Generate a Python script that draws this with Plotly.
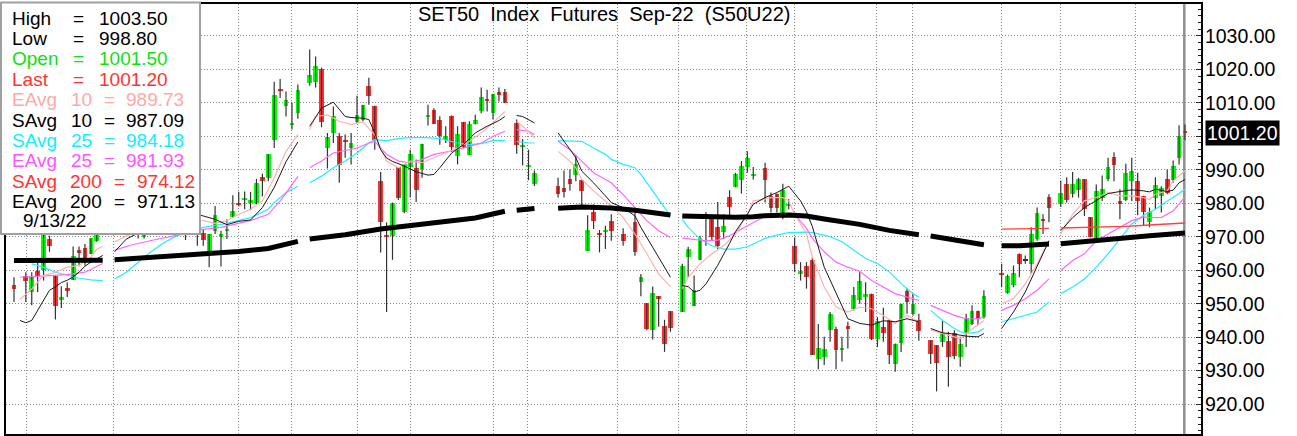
import plotly.graph_objects as go

# ---------------- data (bar slot index = trading-day position) ----------------
slot = [0, 2, 3, 4, 5, 6, 7, 8, 9, 10, 11, 12, 13, 14, 15, 17, 18, 19, 20, 21, 22, 23, 24, 25, 26, 27, 28, 29, 30, 31,
        32, 33, 34, 35, 36, 37, 38, 39, 40, 41, 42, 43, 44, 45, 46, 47, 48, 50, 51, 52, 53, 54, 55, 56, 57, 58, 59, 60,
        61, 62, 63, 64, 65, 66, 67, 68, 69, 70, 71, 72, 73, 74, 75, 76, 77, 78, 79, 80, 81, 82, 83, 85, 86, 87, 88,
        92, 93, 94, 95, 96, 97, 98, 99, 100, 101, 103, 105, 106, 107, 108, 109, 110, 111, 113, 114, 115, 116, 117,
        118, 119, 120, 121, 122, 123, 124, 125, 127, 128, 129, 130, 131, 132, 133, 134, 135, 136, 137, 138, 139, 140,
        141, 142, 143, 144, 145, 146, 147, 148, 149, 150, 151, 152, 153, 155, 156, 157, 158, 159, 160, 161, 162, 163,
        164, 167, 168, 169, 170, 171, 172, 173, 174, 175, 177, 178, 179, 180, 181, 182, 183, 184, 185, 186, 187, 188,
        189, 190, 191, 192, 193, 194, 195, 196, 197, 198]
open_ = [955.6, 958.2, 953.6, 959.9, 960.2, 969.3, 958.4, 951.0, 954.6, 957.1, 966.0, 966.5, 964.8, 968.8, 972.0, 974.0,
         976.0, 978.0, 974.0, 975.0, 970.0, 976.0, 980.0, 982.0, 978.0, 981.0, 984.0, 979.0, 975.0, 978.0,
         971.1, 965.5, 971.8, 970.0, 972.0, 975.9, 980.2, 981.1, 980.0, 980.2, 987.9, 987.4, 999.0, 1014.2, 1009.1,
         1003.5, 1007.1, 1016.0, 1016.3, 1020.0, 996.5, 1001.0, 1000.0, 998.7, 996.5, 1004.3, 1005.0, 1015.1,
         1009.1, 986.6, 970.2, 970.3, 990.8, 977.5, 990.9, 990.6, 990.1, 1005.9, 1007.9, 1004.8, 999.0, 1006.2,
         994.1, 1004.2, 994.4, 1003.7, 1007.7, 1011.1, 1007.1, 1013.1, 1013.1, 1004.0, 997.0, 991.1, 985.8,
         985.1, 984.5, 987.3, 988.5, 986.9, 965.8, 977.5, 971.0, 971.6, 974.8, 970.8, 974.5, 956.4, 950.2, 942.1,
         952.3, 943.3, 947.7, 947.5, 963.9, 949.2, 963.1, 975.5, 975.2, 972.8, 971.3, 982.0, 985.0, 986.9, 990.9,
         988.3, 990.6, 982.2, 982.9, 975.7, 979.4, 967.3, 959.0, 961.2, 963.1, 933.4, 934.0, 942.1, 942.3, 936.1,
         943.3, 948.5, 951.2, 952.0, 953.0, 939.6, 943.1, 945.2, 932.0, 938.3, 953.7, 947.0, 945.2, 939.1, 937.6,
         938.6, 938.9, 941.3, 934.0, 941.1, 943.8, 947.7, 946.0, 958.9, 953.2, 955.7, 964.7, 963.1, 961.9, 969.3,
         975.0, 982.0, 979.9, 985.8, 982.9, 983.9, 987.1, 975.9, 969.0, 981.7, 987.1, 993.8, 980.8, 981.0, 986.6,
         986.6, 982.2, 974.3, 981.7, 982.2, 987.3, 986.9, 993.6, 1001.5]
high = [957.9, 959.4, 959.4, 963.4, 974.0, 970.3, 958.4, 955.2, 956.4, 967.1, 967.1, 967.8, 969.5, 972.5, 976.0, 978.0,
        980.0, 981.0, 977.0, 976.0, 977.0, 981.0, 984.0, 985.0, 983.0, 986.0, 986.0, 982.0, 980.0, 980.0,
        972.0, 970.8, 979.2, 971.8, 975.2, 982.4, 983.4, 983.5, 983.4, 987.3, 988.9, 994.6, 1016.3, 1017.1, 1013.4,
        1010.1, 1015.5, 1025.9, 1023.8, 1020.5, 1001.0, 1008.9, 1001.0, 1000.5, 1001.0, 1012.1, 1009.4, 1017.5,
        1009.1, 989.3, 974.3, 980.2, 990.8, 991.6, 996.0, 993.1, 997.8, 1009.4, 1008.4, 1006.0, 1003.0, 1006.2,
        1003.0, 1004.2, 1004.5, 1006.4, 1014.6, 1013.9, 1012.6, 1014.6, 1014.1, 1005.0, 999.2, 996.0, 989.8,
        987.6, 989.8, 990.1, 994.3, 986.9, 976.4, 979.7, 972.0, 973.3, 976.7, 972.5, 977.5, 958.9, 950.2, 955.1,
        952.3, 945.2, 947.7, 961.9, 967.0, 958.4, 970.3, 977.4, 975.2, 980.4, 976.7, 983.9, 989.1, 992.6, 995.5,
        990.8, 992.1, 983.2, 982.9, 985.8, 981.2, 969.8, 962.4, 962.4, 963.9, 943.9, 940.1, 947.5, 943.1, 940.1,
        944.6, 955.0, 959.4, 956.4, 953.0, 946.0, 948.8, 945.2, 938.1, 950.0, 954.5, 953.2, 947.0, 939.1, 937.6,
        944.9, 941.6, 942.1, 940.1, 947.0, 949.5, 948.0, 954.0, 961.9, 958.7, 961.4, 965.0, 964.4, 972.8, 978.7,
        976.7, 982.7, 986.8, 987.8, 989.3, 987.6, 987.1, 975.9, 985.6, 988.3, 993.6, 995.2, 984.2, 991.8, 993.6,
        989.1, 982.2, 978.7, 987.8, 985.1, 990.1, 992.8, 1003.3, 1003.5]
low = [950.5, 950.5, 949.5, 953.4, 956.9, 965.5, 945.3, 948.7, 952.0, 957.1, 961.2, 961.4, 964.8, 968.5, 970.5, 972.0,
       974.0, 973.0, 971.5, 969.5, 969.5, 975.0, 978.0, 977.0, 976.0, 979.0, 978.0, 969.0, 972.0, 967.3,
       967.3, 960.9, 970.8, 961.1, 969.3, 975.7, 979.0, 978.2, 977.9, 979.7, 982.0, 986.6, 996.5, 1011.4, 1005.9,
       1002.0, 1005.2, 1015.1, 1014.6, 1002.7, 990.4, 998.0, 986.1, 993.6, 991.6, 1004.0, 1004.5, 1009.4,
       996.0, 965.3, 947.5, 963.1, 981.0, 977.0, 981.7, 980.4, 987.6, 1003.2, 1003.7, 997.5, 998.0, 995.3,
       991.6, 996.5, 994.4, 1003.5, 1006.9, 1007.4, 1005.0, 1010.4, 1009.9, 994.8, 991.3, 986.9, 985.1,
       981.7, 981.7, 983.7, 986.6, 979.2, 965.8, 972.3, 965.3, 966.3, 968.8, 967.3, 964.3, 952.2, 942.1, 939.3,
       943.1, 935.6, 941.6, 947.5, 957.9, 949.2, 963.1, 967.3, 969.0, 966.3, 969.3, 976.2, 984.8, 982.9, 989.1,
       987.1, 980.2, 977.2, 977.2, 975.2, 978.2, 959.4, 956.9, 954.5, 934.7, 930.4, 931.7, 938.6, 930.4, 932.7,
       936.6, 948.0, 950.0, 947.5, 939.1, 937.1, 938.6, 932.0, 929.7, 935.6, 947.0, 946.5, 938.9, 932.0, 923.8,
       937.1, 925.2, 933.4, 931.2, 937.1, 943.6, 943.6, 945.5, 954.9, 953.0, 954.9, 957.9, 961.9, 958.9, 968.8,
       970.8, 974.3, 978.9, 980.2, 981.7, 981.7, 976.2, 969.8, 969.0, 980.7, 986.6, 986.6, 975.2, 980.7, 980.7,
       976.4, 973.3, 972.8, 978.2, 977.2, 982.7, 986.1, 991.6, 998.8]
close = [954.4, 956.9, 958.2, 958.4, 972.0, 967.3, 949.3, 952.0, 953.7, 964.1, 965.0, 962.9, 969.5, 972.0, 975.0, 976.0,
         978.0, 974.0, 975.5, 972.0, 976.0, 980.0, 982.0, 978.0, 981.0, 984.0, 979.0, 975.0, 978.0, 971.0,
         969.1, 970.8, 976.5, 970.8, 972.3, 977.7, 979.5, 981.5, 981.0, 985.9, 986.6, 994.6, 1012.2, 1013.4, 1010.8,
         1003.9, 1013.9, 1018.3, 1021.1, 1004.3, 999.9, 1006.2, 991.3, 998.2, 998.0, 1006.4, 1009.2, 1012.1,
         999.0, 974.5, 970.0, 980.2, 981.7, 991.6, 994.8, 983.9, 997.8, 1006.2, 1003.7, 1000.0, 1000.0, 996.8,
         1000.8, 996.8, 1003.7, 1005.0, 1011.8, 1010.4, 1012.6, 1012.4, 1009.9, 997.5, 997.2, 991.4, 988.9,
         982.9, 983.4, 985.8, 991.6, 983.7, 972.0, 974.8, 970.6, 972.0, 971.6, 968.8, 965.3, 957.9, 942.3, 953.2,
         951.3, 938.1, 942.6, 961.4, 966.3, 954.0, 969.6, 976.9, 970.0, 967.3, 973.3, 979.0, 988.8, 991.1, 993.6,
         988.6, 986.9, 978.7, 978.7, 983.9, 979.7, 961.9, 959.9, 958.1, 934.7, 936.9, 936.6, 947.0, 936.1, 936.9,
         942.3, 952.5, 956.9, 953.0, 939.6, 944.9, 941.3, 934.7, 937.9, 950.0, 950.5, 949.8, 941.8, 935.1, 932.2,
         941.3, 934.2, 934.4, 937.9, 945.8, 947.8, 945.5, 952.3, 958.6, 958.4, 959.1, 961.9, 963.1, 970.8, 977.2,
         974.8, 978.7, 983.2, 980.9, 985.8, 987.1, 978.2, 970.0, 983.7, 984.4, 990.9, 991.3, 979.8, 989.1, 989.6,
         980.7, 977.5, 977.5, 985.4, 984.7, 983.2, 991.1, 1000.0, 1001.2]

# moving averages (None = break in the line)
eavg10_slot = [1, 3, 5, 7, 9, 11, 13, 14, 15, 16, 17, 20, 24, 28, 30, 32, 34, 36, 38, 40, 42, 44, 46, 48, 49, 50, 51,
               53, 55, 57, 59, 61, 62, 63, 65, 67, 69, 71, 73, 75, 77, 79, 81, 83, 84, 85, 87, 88, 90, 92, 94, 95, 96,
               98, 100, 101, 103, 105, 107, 109, 111, 112, 113, 114, 116, 118, 120, 122, 124, 125, 127,
               128, 130, 131, 132, 134, 135, 137, 139, 141, 143, 145, 147, 149, 151, 153, 154, 155, 157, 159, 160,
               161, 163, 164, 165, 167, 169, 171, 173, 175, 176, 177, 179, 181, 183, 185, 187, 189, 191, 192, 193,
               195, 196, 198]
eavg10 = [951.3, 954.4, 958.4, 959.4, 960.9, 961.4, 963.9, 966.3, 967.1, None, 968.5, 971.0, 975.0, 977.0, 975.2, 974.8,
          974.0, 974.8, 976.7, 978.2, 980.7, 987.6, 995.5, 1000.5, None, 1002.0, 1005.9, 1006.4, 1004.5, 1003.5,
          1004.3, 1000.5, 996.5, 992.6, 990.6, 992.6, 992.1, 993.6, 995.0, 996.5, 998.5, 1001.0, 1004.0, 1007.4,
          None, 1004.5, 1001.5, 999.5, None, 995.5, 992.6, 990.6, 987.1, 983.7, 980.7, 979.2, 975.7,
          970.8, 964.9, 958.9, 955.0, None, 954.5, 957.9, 961.9, 964.9, 967.3, 970.8, 976.7, 980.7, 981.2,
          981.7, 981.7, 980.7, 976.7, 970.8, 963.9, 955.0, 949.0, 947.5, 949.0, 948.5, 946.5, 944.1, 946.5, 944.6,
          None, 942.1, 941.1, 940.1, 939.6, 941.1, 943.6, 945.0, None, 950.0, 951.5, 955.9, 961.9, 968.8, None,
          970.8, 976.7, 980.7, 981.7, 983.2, 982.2, 982.2, 981.7, 981.2, 982.7, 983.7, 986.6, 989.7]

savg10_slot = [1, 2, 3, 4, 5, 6, 7, 8, 9, 10, 11, 12, 13, 14, 15, 16, 17, 19, 22, 25, 28, 30, 32, 34, 36, 38, 40, 42,
               44, 46, 48, 49, 50, 52, 54, 56, 57, 59, 60, 61, 62, 63, 64, 66, 68, 70, 71, 72, 74, 76, 78, 80, 82, 83,
               84, 85, 86, 88, 90, 92, 93, 94, 95, 96, 98, 100, 101, 103, 105, 106, 108, 110, 111, 112, 113,
               114, 115, 116, 117, 119, 121, 122, 124, 125, 127, 129, 131, 133, 134, 135, 137, 139, 141, 143,
               145, 147, 149, 151, 153, 154, 155, 157, 159, 161, 163, 164, 165, 167, 169, 171, 173, 175, 176, 177,
               179, 181, 183, 185, 187, 189, 191, 192, 193, 195, 196, 197, 198]
savg10 = [945.0, 944.3, 945.0, 948.0, 951.0, 954.0, 955.0, 956.3, 957.0, 958.0, 959.4, 961.2, 962.4, 963.4, 964.4, None,
          965.5, 969.3, 972.0, 975.0, 977.0, 977.2, 976.2, 975.2, 973.6, 974.6, 975.0, 978.7, 984.7, 992.4, 998.3,
          None, 1003.0, 1008.4, 1010.2, 1005.9, 1005.6, 1005.4, 1005.0, 1001.0, 996.0, 993.5, 992.5, 991.1, 989.4,
          988.4, 988.6, 990.6, 995.0, 997.5, 1001.0, 1003.0, 1004.7, 1005.9, None, 1006.2, 1005.9, 1004.0, None,
          1001.0, 998.5, 996.0, 993.6, 989.6, 986.1, 982.2, 980.2, 978.7, 976.2, 972.8, 966.8, 960.9,
          957.9, None, 955.4, 955.1, 953.5, 954.0, 955.9, 961.5, 968.0, 971.5, 976.7, 979.7, 981.7, 983.2,
          985.1, 980.7, 977.5, 973.0, 960.9, 953.0, 945.5, 944.1, 943.6, 944.9, 944.6, 945.5, 944.6, None, 942.6,
          941.3, 940.9, 940.3, 940.1, 941.1, None, 942.6, 947.5, 953.5, 960.9, 968.8, None, 971.8, 975.7, 978.7,
          980.7, 982.9, 983.5, 984.0, 983.7, 983.4, 984.2, 983.5, 983.9, 986.1, 987.1]

savg25_slot = [3, 5, 7, 9, 11, 13, 15, 16, 17, 19, 21, 23, 25, 27, 29, 31, 32, 36, 40, 43, 44, 46, 48, 49, 50, 52, 54,
               56, 58, 60, 61, 63, 66, 69, 72, 75, 77, 79, 81, 83, 84, 85, 87, 88, 90, 92, 95, 96, 98, 100, 101,
               103, 105, 106, 108, 110, 111, 112, 113, 114, 116, 118, 120, 122, 124, 125, 127, 129, 131,
               134, 135, 137, 138, 140, 142, 144, 146, 148, 150, 152, 153, 154, 155, 157, 159, 160, 161, 163, 164,
               165, 167, 169, 171, 173, 175, 176, 177, 179, 181, 183, 185, 187, 189, 191, 193, 195, 196, 198]
savg25 = [961.9, 960.9, 959.4, 958.4, 957.6, 957.1, 956.9, None, 957.4, 959.4, 962.4, 965.3, 967.8, 969.8, 971.3, 972.3,
          972.8, 974.0, 975.7, 978.2, 980.2, 983.2, 985.1, None, 986.1, 988.1, 990.6, 992.6, 995.0, 998.0, 999.0,
          998.7, 999.5, 999.7, 999.3, 998.0, 997.5, 997.8, 998.7, 998.7, None, 998.5, 998.0, 998.0, None, 998.7,
          998.5, 998.5, 996.5, 994.6, 993.1, 991.6, 990.6, 988.6, 983.7, 978.7, 976.2, None, 975.2,
          972.8, 969.3, 967.3, 966.3, 966.3, 967.0, 967.8, 969.5, 970.5, 971.2, 971.4, 971.2, 970.5, 970.0,
          968.5, 966.0, 963.5, 962.0, 959.5, 956.0, 953.0, 952.0, None, 948.0, 945.0, 942.6, 941.6, 941.1, 941.6,
          942.6, None, 944.6, 945.5, 946.5, 947.5, 950.5, None, 953.0, 955.0, 957.4, 960.9, 964.9, 969.3, 973.8,
          976.4, 978.2, 980.7, 981.7, 984.2]

eavg25_slot = [1, 5, 9, 12, 14, 15, 16, 17, 20, 23, 26, 29, 31, 35, 40, 43, 45, 46, 48, 49, 50, 52, 54, 56, 58, 60,
               61, 62, 63, 65, 67, 69, 71, 73, 75, 77, 79, 81, 83, 84, 85, 87, 88, 90, 92, 94, 96, 98, 100, 101,
               103, 105, 107, 109, 111, 112, 113, 115, 117, 119, 121, 123, 125, 127, 130, 132, 134, 135,
               137, 139, 141, 143, 145, 147, 149, 151, 153, 154, 155, 157, 159, 160, 161, 163, 164, 165, 167, 169,
               171, 173, 175, 176, 177, 179, 181, 183, 185, 187, 189, 191, 192, 194, 195, 196, 198]
eavg25 = [957.9, 958.4, 958.7, 959.4, 961.2, 962.0, None, 966.0, 967.6, 968.8, 969.8, 971.0, 972.0, 972.8, 974.8, 976.7,
          980.7, 983.0, 988.0, None, 990.6, 992.6, 995.0, 995.7, 996.5, 998.0, 998.5, 996.5, 994.6, 992.6, 992.1,
          993.1, 994.6, 995.3, 996.0, 997.0, 998.0, 1000.0, 1001.5, None, 1002.0, 1001.5, 1000.5, None, 998.5,
          996.0, 992.6, 989.1, 987.1, 986.1, 982.6, 978.7, 974.8, 971.8, 969.8, None, 969.6, 969.3,
          968.8, 969.0, 970.3, 972.3, 974.3, 976.1, 976.4, 976.7, 972.5, 969.5, 965.5, 962.4, 960.9, 959.7,
          956.9, 955.0, 953.0, 952.0, 951.0, None, 949.5, 948.0, 946.5, 946.0, 945.5, 945.5, 946.0, None, 948.0,
          949.5, 951.5, 954.0, 957.4, None, 959.9, 962.9, 964.9, 968.8, 970.8, 972.8, 974.8, 975.9, 975.7, 975.8,
          976.7, 977.7, 981.9]

savg200_slot = [167, 171, 175, 176, 177, 181, 185, 188, 192, 195, 198]
savg200 = [972.3, 972.4, 972.5, None, 972.6, 972.8, 972.9, 973.1, 973.5, 973.8, 974.1]

eavg200_slot = [0, 5, 10, 15, 16, 17, 24, 31, 38, 43, 48, 49, 50, 56, 62, 67, 72, 78, 83, 84, 85, 88, 90, 92, 96, 101,
                103, 105, 111, 112, 113, 117, 122, 125, 127, 131, 134, 137, 143, 148, 153, 154, 155,
                160, 164, 165, 167, 170, 175, 176, 177, 181, 186, 192, 198]
eavg200 = [962.9, 962.9, 962.9, 963.0, None, 963.1, 963.8, 964.8, 965.6, 966.5, 968.6, None, 969.3, 970.6, 972.3, 973.4,
           974.2, 975.6, 977.6, None, 977.9, 978.4, None, 978.5, 978.9, 978.6, 978.3, 977.9, 976.5,
           None, 976.2, 975.9, 975.8, 976.0, 976.3, 976.5, 976.2, 975.3, 973.7, 971.9, 970.6, None, 970.2,
           968.8, 967.6, None, 967.3, 967.3, 967.8, None, 967.9, 968.6, 969.5, 970.3, 971.1]

y_ticks = [920, 930, 940, 950, 960, 970, 980, 990, 1000, 1010, 1020, 1030]
grid_slots = [2.03, 16.9, 38.0, 47.0, 58.0, 67.1, 81.0, 86.9, 102.0, 112.4, 123.9, 131.9, 145.9, 152.0, 166.9, 176.9,
              189.7]

title_text = "SET50  Index  Futures  Sep-22  (S50U22)"
info_rows = [
    ("High", "", "1003.50", "#000000"),
    ("Low", "", "998.80", "#000000"),
    ("Open", "", "1001.50", "#11E011"),
    ("Last", "", "1001.20", "#FF3333"),
    ("EAvg", "10", "989.73", "#FFA8A8"),
    ("SAvg", "10", "987.09", "#000000"),
    ("SAvg", "25", "984.18", "#11EEFF"),
    ("EAvg", "25", "981.93", "#FF55FF"),
    ("SAvg", "200", "974.12", "#FF3333"),
    ("EAvg", "200", "971.13", "#000000"),
]
info_date = "9/13/22"
last_price_label = "1001.20"

# ---------------- geometry ----------------
W, H = 1297, 436
PL, PR, PT, PB = 6, 1201, 2, 434
X0_PX, DX_PX = 14.0, 5.914
Y1000_PX, PX_PER_PT = 134.9, 3.3636
x_range = [(PL - X0_PX) / DX_PX, (PR - X0_PX) / DX_PX]
y_range = [1000 - (PB - Y1000_PX) / PX_PER_PT, 1000 - (PT - Y1000_PX) / PX_PER_PT]


def pxx(p):
    return (p - PL) / (PR - PL)


def pxy(p):
    return (PB - p) / (PB - PT)


FONT = "Liberation Sans, Arial, sans-serif"
GREEN, RED, DOJI = "#00FF00", "#FF3030", "#303030"
FS = 19
FS_TICK = 19.5

fig = go.Figure()

# wicks
wx, wy = [], []
for s, h, l in zip(slot, high, low):
    wx += [s, s, None]
    wy += [l, h, None]
fig.add_trace(go.Scatter(x=wx, y=wy, mode="lines", line=dict(color="#333333", width=1.2),
                         hoverinfo="skip", showlegend=False))

# bodies
bases, heights, cols = [], [], []
MIN_BODY = 0.6
for o, c in zip(open_, close):
    h = abs(c - o)
    if h < MIN_BODY:
        bases.append((o + c) / 2 - MIN_BODY / 2)
        heights.append(MIN_BODY)
    else:
        bases.append(min(o, c))
        heights.append(h)
    cols.append(GREEN if c > o else (RED if c < o else DOJI))
fig.add_trace(go.Bar(x=slot, y=heights, base=bases, width=0.8, marker=dict(color=cols, line=dict(width=0)),
                     showlegend=False, hoverinfo="skip"))


def add_line(xs, ys, color, width):
    fig.add_trace(go.Scatter(x=xs, y=ys, mode="lines", line=dict(color=color, width=width),
                             connectgaps=False, hoverinfo="skip", showlegend=False))


add_line(savg25_slot, savg25, "#22EEFF", 1.2)
add_line(eavg25_slot, eavg25, "#FF66FF", 1.2)
add_line(eavg10_slot, eavg10, "#FFB0B0", 1.2)
add_line(savg10_slot, savg10, "#1A1A1A", 1.0)
add_line(savg200_slot, savg200, "#FF4040", 1.3)
add_line(eavg200_slot, eavg200, "#000000", 5.0)

shapes = [
    # current-bar marker line
    dict(type="line", xref="x", yref="paper", x0=(1184.3 - X0_PX) / DX_PX, x1=(1184.3 - X0_PX) / DX_PX,
         y0=0, y1=1, line=dict(color="#909090", width=2.5), layer="below"),
    # info box
    dict(type="rect", xref="paper", yref="paper", x0=pxx(1), x1=pxx(200), y0=pxy(233), y1=pxy(0.5),
         fillcolor="white", line=dict(color="#A0A0A0", width=2), layer="above"),
]

annotations = [
    dict(text=title_text, xref="paper", yref="paper", x=pxx(604), y=pxy(12.3), xanchor="center",
         yanchor="middle", showarrow=False, font=dict(family=FONT, size=20, color="black")),
]
row_y0, row_dy = 16.3, 20.45
for i, (lab, num, val, col) in enumerate(info_rows):
    py = row_y0 + i * row_dy
    annotations.append(dict(text=lab, xref="paper", yref="paper", x=pxx(10), y=pxy(py), xanchor="left",
                            yanchor="middle", showarrow=False, font=dict(family=FONT, size=FS, color=col)))
    if num == "":
        eq_x, val_x = 78.5, 96.5
    else:
        num_x = 69 if len(num) == 2 else 68
        annotations.append(dict(text=num, xref="paper", yref="paper", x=pxx(num_x), y=pxy(py), xanchor="left",
                                yanchor="middle", showarrow=False, font=dict(family=FONT, size=FS, color=col)))
        eq_x, val_x = (110, 124) if len(num) == 2 else (119, 135)
    annotations.append(dict(text="=", xref="paper", yref="paper", x=pxx(eq_x), y=pxy(py), xanchor="center",
                            yanchor="middle", showarrow=False, font=dict(family=FONT, size=FS, color=col)))
    annotations.append(dict(text=val, xref="paper", yref="paper", x=pxx(val_x), y=pxy(py), xanchor="left",
                            yanchor="middle", showarrow=False, font=dict(family=FONT, size=FS, color=col)))
annotations.append(dict(text=info_date, xref="paper", yref="paper", x=pxx(21), y=pxy(row_y0 + 10 * row_dy - 1),
                        xanchor="left", yanchor="middle", showarrow=False,
                        font=dict(family=FONT, size=FS, color="black")))
# last price tag on the axis
annotations.append(dict(text=last_price_label, xref="paper", yref="y", x=pxx(1205), y=close[-1] - 0.2,
                        xanchor="left", yanchor="middle", showarrow=False, bgcolor="black", borderpad=1,
                        font=dict(family=FONT, size=FS_TICK, color="white")))

minor_vals = [v for v in range(912, 1040, 2) if v % 10]

fig.update_layout(
    width=W, height=H,
    margin=dict(l=PL, r=W - PR, t=PT, b=H - PB, pad=0),
    paper_bgcolor="white", plot_bgcolor="white",
    showlegend=False, barmode="overlay", bargap=0,
    shapes=shapes, annotations=annotations,
    font=dict(family=FONT, size=FS, color="black"),
    xaxis=dict(range=x_range, tickmode="array", tickvals=grid_slots, showticklabels=False, ticks="",
               showgrid=True, gridcolor="#8A8A8A", gridwidth=1, griddash="1px,2px", zeroline=False,
               showline=True, mirror=True, linecolor="black", linewidth=2, fixedrange=True),
    yaxis=dict(range=y_range, side="right", tickmode="array", tickvals=y_ticks,
               ticktext=["" if v == 1000 else f"{v:.2f}" for v in y_ticks],
               ticks="inside", ticklen=5, tickcolor="#222", tickwidth=1, ticklabelstandoff=-2,
               showgrid=True, gridcolor="#8A8A8A", gridwidth=1, griddash="1px,2px", zeroline=False,
               showline=True, mirror=True, linecolor="black", linewidth=2,
               tickfont=dict(family=FONT, size=FS_TICK, color="black"),
               minor=dict(tickmode="array", tickvals=minor_vals, ticks="inside", ticklen=3, tickcolor="#222",
                          showgrid=False),
               fixedrange=True),
)

fig.write_html("out.html", config={"displayModeBar": False},
               post_script="document.body.style.margin='0';document.body.style.overflow='hidden';")
